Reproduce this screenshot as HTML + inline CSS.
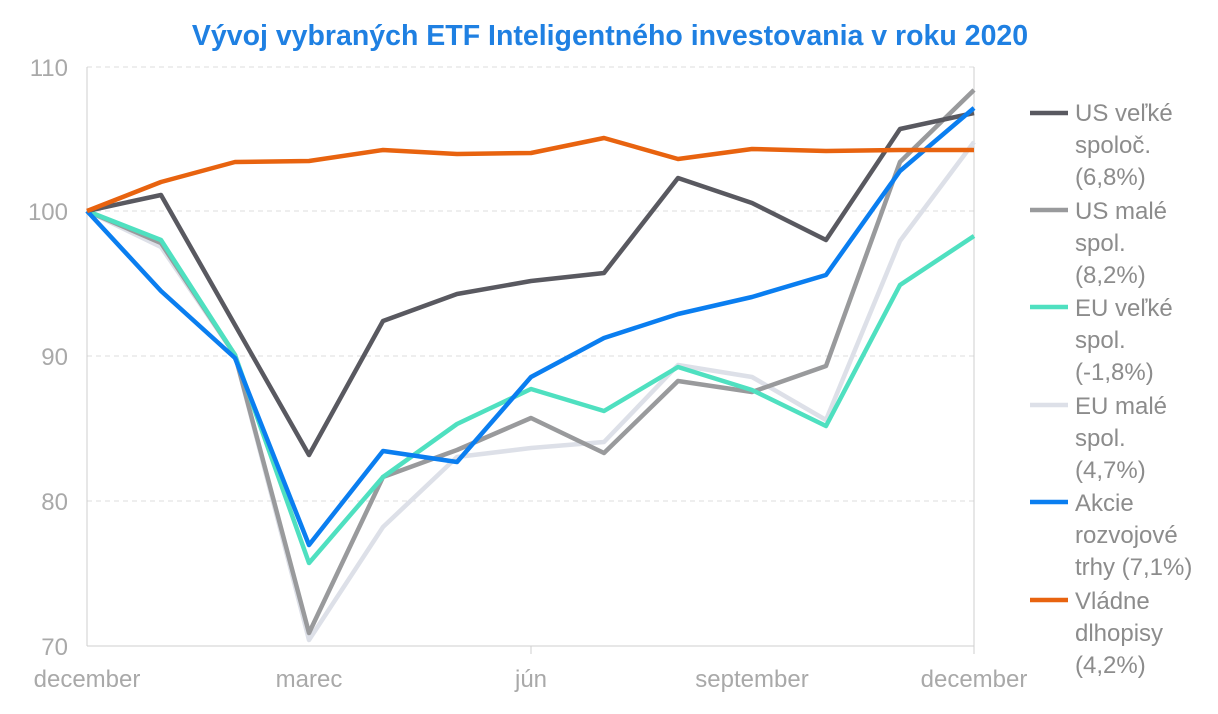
<!DOCTYPE html>
<html><head><meta charset="utf-8"><style>
html,body{margin:0;padding:0;background:#fff;width:1218px;height:714px;overflow:hidden}
svg{font-family:"Liberation Sans",sans-serif}
</style></head><body>
<svg width="1218" height="714" viewBox="0 0 1218 714">
<text x="610" y="45" text-anchor="middle" font-size="28.5" font-weight="bold" fill="#1f80e2">Vývoj vybraných ETF Inteligentného investovania v roku 2020</text>
<g stroke="#dcdcdc" stroke-width="1" stroke-dasharray="5,4">
<line x1="87" y1="67" x2="974" y2="67"/><line x1="87" y1="211" x2="974" y2="211"/>
<line x1="87" y1="356" x2="974" y2="356"/><line x1="87" y1="501" x2="974" y2="501"/>
</g>
<line x1="87" y1="646" x2="974" y2="646" stroke="#cfcfcf"/>
<line x1="87" y1="67" x2="87" y2="646" stroke="#cfcfcf"/>
<line x1="531" y1="646" x2="531" y2="654" stroke="#cfcfcf"/>
<line x1="974" y1="67" x2="974" y2="654" stroke="#cfcfcf"/>
<g font-size="24" fill="#a9a9a9" text-anchor="end">
<text x="68" y="76">110</text><text x="68" y="220">100</text><text x="68" y="365">90</text><text x="68" y="510">80</text><text x="68" y="655">70</text>
</g>
<g font-size="24" fill="#a9a9a9" text-anchor="middle">
<text x="87" y="687">december</text><text x="309" y="687">marec</text><text x="531" y="687">jún</text><text x="752" y="687">september</text><text x="974" y="687">december</text>
</g>
<g fill="none" stroke-width="4.5" stroke-linejoin="round">
<polyline stroke="#dde0e8" points="87,211 161,247 235,355 309,640 383,527 457,457 531,448 604,442 678,365 752,377 826,420 900,241 974,142"/>
<polyline stroke="#999a9c" points="87,211 161,243 235,355 309,633 383,477 457,450 531,418 604,453 678,381 752,392 826,366 900,162 974,90"/>
<polyline stroke="#4fe0c0" points="87,211 161,240 235,355 309,563 383,477 457,424 531,389 604,411 678,367 752,390 826,426 900,285 974,236"/>
<polyline stroke="#595960" points="87,211 161,195 235,325 309,455 383,321 457,294 531,281 604,273 678,178 752,203 826,240 900,129 974,113"/>
<polyline stroke="#0a7ef0" points="87,211 161,291 235,358 309,545 383,451 457,462 531,377 604,338 678,314 752,297 826,275 900,171 974,108"/>
<polyline stroke="#e8630f" points="87,211 161,182 235,162 309,161 383,150 457,154 531,153 604,138 678,159 752,149 826,151 900,150 974,150"/>
</g>
<g stroke-width="4.5">
<line x1="1030" y1="113" x2="1068" y2="113" stroke="#595960"/>
<line x1="1030" y1="210" x2="1068" y2="210" stroke="#999a9c"/>
<line x1="1030" y1="307" x2="1068" y2="307" stroke="#4fe0c0"/>
<line x1="1030" y1="405" x2="1068" y2="405" stroke="#dde0e8"/>
<line x1="1030" y1="502" x2="1068" y2="502" stroke="#0a7ef0"/>
<line x1="1030" y1="600" x2="1068" y2="600" stroke="#e8630f"/>
</g>
<g font-size="24" fill="#8c8c8c">
<text x="1075" y="121">US veľké</text><text x="1075" y="153">spoloč.</text><text x="1075" y="185">(6,8%)</text>
<text x="1075" y="219">US malé</text><text x="1075" y="251">spol.</text><text x="1075" y="283">(8,2%)</text>
<text x="1075" y="316">EU veľké</text><text x="1075" y="348">spol.</text><text x="1075" y="380">(-1,8%)</text>
<text x="1075" y="414">EU malé</text><text x="1075" y="446">spol.</text><text x="1075" y="478">(4,7%)</text>
<text x="1075" y="511">Akcie</text><text x="1075" y="543">rozvojové</text><text x="1075" y="575">trhy (7,1%)</text>
<text x="1075" y="609">Vládne</text><text x="1075" y="641">dlhopisy</text><text x="1075" y="673">(4,2%)</text>
</g>
</svg>
</body></html>
